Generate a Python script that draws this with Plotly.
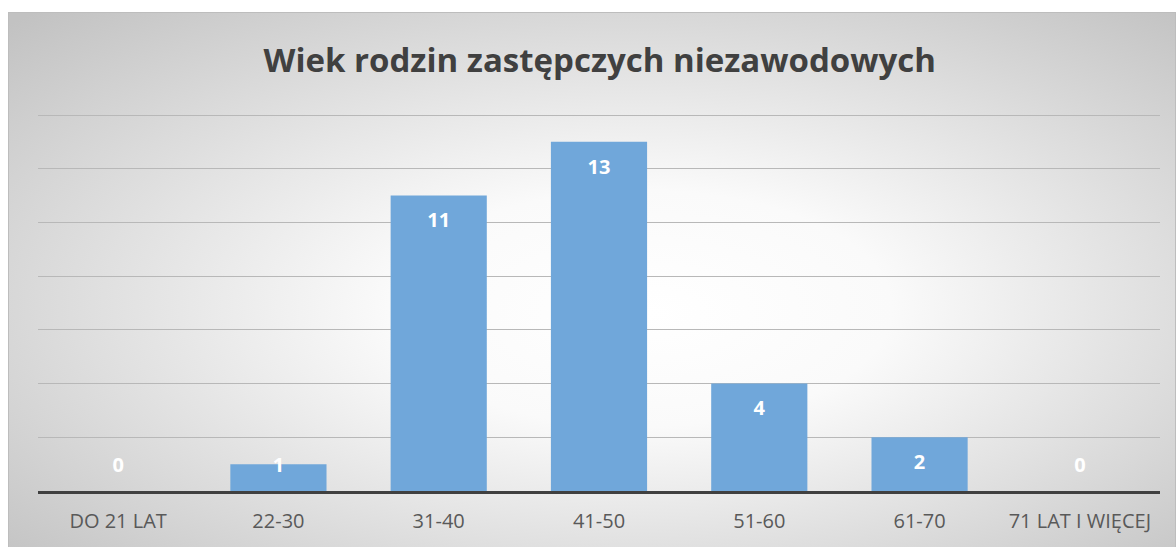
import base64
import plotly.graph_objects as go

categories = ["DO 21 LAT", "22-30", "31-40", "41-50", "51-60", "61-70", "71 LAT I WIĘCEJ"]
values = [0, 1, 11, 13, 4, 2, 0]
title_text = "Wiek rodzin zastępczych niezawodowych"

W, H = 1176, 547
ML, MR, MT, MB = 38, 16, 112, 56
PW, PH = W - ML - MR, H - MT - MB
Y_TOP = 14 * PH / 376  # keep top gridline (14) at the reference position

# background: radial gradient frame (decoration only)
svg = f'''<svg xmlns="http://www.w3.org/2000/svg" width="{W}" height="{H}" viewBox="0 0 {W} {H}">
<defs><radialGradient id="g" cx="0.52" cy="0.52" r="0.72" fx="0.55" fy="0.55">
<stop offset="0" stop-color="#ffffff"/><stop offset="0.3" stop-color="#fafafa"/>
<stop offset="1" stop-color="#c2c2c2"/></radialGradient></defs>
<rect x="0" y="0" width="{W}" height="{H}" fill="#ffffff"/>
<rect x="8.5" y="12.5" width="{W-9}" height="{H}" fill="url(#g)" stroke="#bdbdbd" stroke-width="1"/>
</svg>'''
src = "data:image/svg+xml;base64," + base64.b64encode(svg.encode()).decode()

label_y = [max(v - 1, 0.9) for v in values]

fig = go.Figure()
fig.add_trace(go.Bar(
    x=categories, y=values,
    marker=dict(color="#70a7da", line=dict(width=0)),
    width=0.6, hoverinfo="x+y",
))
fig.add_trace(go.Scatter(
    x=categories, y=label_y, mode="text",
    text=[str(v) for v in values],
    textposition="middle center",
    textfont=dict(family="Open Sans", size=20, color="#ffffff", weight="bold"),
    hoverinfo="skip",
))

fig.update_layout(
    width=W, height=H,
    margin=dict(l=ML, r=MR, t=MT, b=MB),
    paper_bgcolor="rgba(0,0,0,0)", plot_bgcolor="rgba(0,0,0,0)",
    showlegend=False, bargap=0.4,
    title=dict(text=title_text, x=0.51, xanchor="center", y=1 - 60 / H, yanchor="middle",
               font=dict(family="Open Sans", size=33, color="#404040", weight="bold")),
    images=[dict(source=src, xref="paper", yref="paper",
                 x=-ML / PW, y=1 + MT / PH, sizex=W / PW, sizey=H / PH,
                 xanchor="left", yanchor="top", sizing="stretch", layer="below")],
    xaxis=dict(showline=True, linecolor="#404040", linewidth=3, showgrid=False,
               ticks="", ticklabelstandoff=10,
               tickfont=dict(family="Open Sans", size=20, color="#595959"),
               fixedrange=True),
    yaxis=dict(range=[0, Y_TOP], tick0=0, dtick=2, showgrid=True, gridcolor="#b8b8b8", gridwidth=1,
               showticklabels=False, zeroline=False, fixedrange=True),
)
fig.write_html("out.html", config={"displayModeBar": False},
               post_script="document.body.style.margin='0';")
